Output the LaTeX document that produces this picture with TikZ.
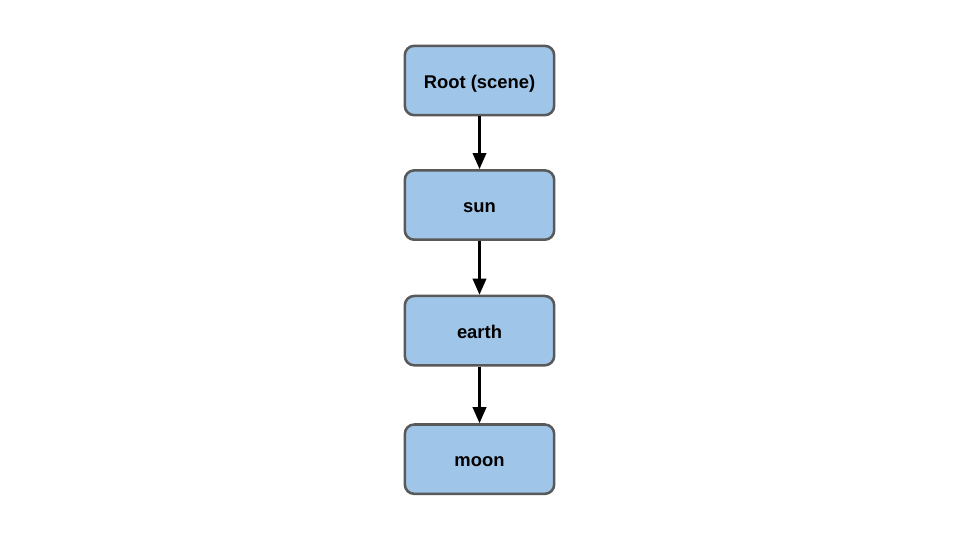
\documentclass[tikz,border=0pt]{standalone}
\usepackage{fontspec}
\setmainfont{Liberation Sans}
\usetikzlibrary{arrows.meta, positioning}

\begin{document}
\begin{tikzpicture}[x=0.75pt, y=-0.75pt, >={Triangle[length=12pt, width=10pt]},
    scenebox/.style={draw=black!65, fill={rgb,255:red,159;green,197;blue,232},
        line width=1.9pt, rounded corners=7pt, minimum width=112pt, minimum height=52pt,
        text height=11.5pt, text depth=0pt,
        font=\fontsize{13.8}{16}\selectfont\bfseries},
    link/.style={->, line width=1.9pt, black}]

% fix the page to the reference size
\useasboundingbox (0,0) rectangle (960,540);

% the scene graph, top to bottom
\node[scenebox] (root) at (479.5,80.5) {Root (scene)};
\node[scenebox, below=39.5pt of root] (sun) {sun};
\node[scenebox, below=40.3pt of sun] (earth) {earth};
\node[scenebox, below=42.5pt of earth] (moon) {moon};

% parent to child links
\draw[link] (root) -- (sun);
\draw[link] (sun) -- (earth);
\draw[link] (earth) -- (moon);

\end{tikzpicture}
\end{document}
